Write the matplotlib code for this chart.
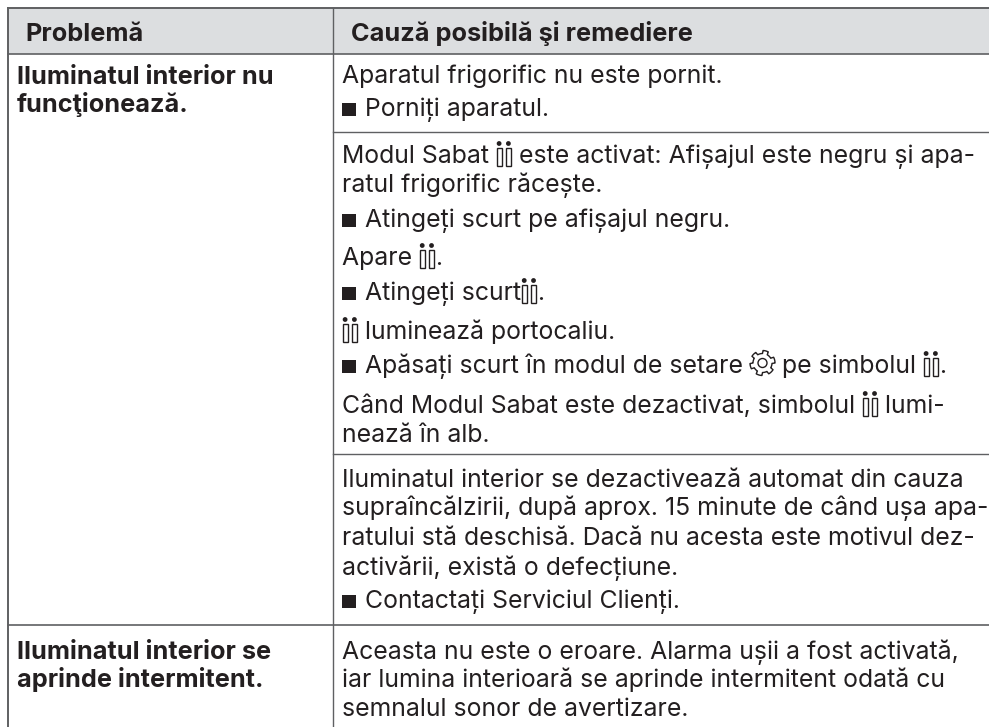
import matplotlib
matplotlib.use('Agg')
import matplotlib.pyplot as plt
from matplotlib.patches import Rectangle, Circle, Polygon
import numpy as np

W, H = 989, 727
FONT = 'Inter'
TEXT_COLOR = '#231f20'
LINE_COLOR = '#5f6062'
HEADER_BG = '#dcdee0'

headers = ['Problemă', 'Cauză posibilă şi remediere']

problems = [
    ('Iluminatul interior nu', 'funcţionează.'),
    ('Iluminatul interior se', 'aprinde intermitent.'),
]

# {c} = candle symbol, {g} = gear symbol, {b} = square bullet
cause_lines = [
    'Aparatul frigorific nu este pornit.',
    '{b}Porniți aparatul.',
    'Modul Sabat {c} este activat: Afișajul este negru și apa-',
    'ratul frigorific răcește.',
    '{b}Atingeți scurt pe afișajul negru.',
    'Apare {c}.',
    '{b}Atingeți scurt{c}.',
    '{c} luminează portocaliu.',
    '{b}Apăsați scurt în modul de setare {g} pe simbolul {c}.',
    'Când Modul Sabat este dezactivat, simbolul {c} lumi-',
    'nează în alb.',
    'Iluminatul interior se dezactivează automat din cauza',
    'supraîncălzirii, după aprox. 15 minute de când ușa apa-',
    'ratului stă deschisă. Dacă nu acesta este motivul dez-',
    'activării, există o defecțiune.',
    '{b}Contactați Serviciul Clienți.',
    'Aceasta nu este o eroare. Alarma ușii a fost activată,',
    'iar lumina interioară se aprinde intermitent odată cu',
    'semnalul sonor de avertizare.',
]

cause_baselines = [83, 116, 163, 192, 227, 265, 300, 339, 373, 413, 442,
                   487, 515, 545, 575, 608, 659, 687, 716]
problem_baselines = [[84, 112], [659, 687]]

LEFT, MID, RIGHT, TOP = 8, 333, W, 8
HEADER_BOTTOM = 54
COL1_X, COL2_X = 17, 342
row_lines = [132, 454]
last_row_line = 625


def draw_candles(ax, x, base):
    for dx in (0.5, 9.8):
        ax.add_patch(Rectangle((x + dx, base - 15), 5.2, 18, fill=False, ec=TEXT_COLOR, lw=1.0))
        ax.add_patch(Circle((x + dx + 2.6, base - 19.5), 2.4, fc=TEXT_COLOR, ec='none'))
    return 16


def draw_gear(ax, x, base):
    cx, cy = x + 12.5, base - 10
    ang = np.linspace(0, 2 * np.pi, 145)[:-1]
    rad = 12.5 - 3 * (np.cos(6 * ang + np.pi / 2) < 0)
    ax.add_patch(Polygon(np.c_[cx + rad * np.cos(ang), cy + rad * np.sin(ang)],
                         closed=True, fill=False, ec=TEXT_COLOR, lw=1.0, joinstyle='round'))
    ax.add_patch(Circle((cx, cy), 4.5, fill=False, ec=TEXT_COLOR, lw=1.0))
    return 25


def draw_bullet(ax, x, base):
    ax.add_patch(Rectangle((x, base - 13), 14, 13, fc=TEXT_COLOR, ec='none'))
    return 23


def draw_line(fig, ax, x, base, line, **kw):
    parts = line.replace('{', '|{').replace('}', '}|').split('|')
    renderer = fig.canvas.get_renderer()
    for part in parts:
        if part == '{c}':
            x += draw_candles(ax, x, base)
        elif part == '{g}':
            x += draw_gear(ax, x, base)
        elif part == '{b}':
            x += draw_bullet(ax, x, base)
        elif part:
            ax.text(x, base, part, va='baseline', ha='left', family=FONT,
                    color=TEXT_COLOR, **kw)
            # trailing spaces are not measured, so measure with a stand-in
            probe = ax.text(0, 0, part.replace(' ', '\u00a0'), family=FONT, **kw)
            x += probe.get_window_extent(renderer).width
            probe.remove()


fig = plt.figure(figsize=(W / 100, H / 100), dpi=100)
ax = fig.add_axes([0, 0, 1, 1])
ax.set_xlim(0, W)
ax.set_ylim(H, 0)
ax.axis('off')

ax.add_patch(Rectangle((LEFT, TOP), RIGHT - LEFT, HEADER_BOTTOM - TOP, fc=HEADER_BG, ec='none'))
ax.plot([LEFT, RIGHT], [TOP, TOP], color=LINE_COLOR, lw=1.4)
ax.plot([LEFT, RIGHT], [HEADER_BOTTOM, HEADER_BOTTOM], color=LINE_COLOR, lw=1.2)
ax.plot([LEFT, LEFT], [TOP, H], color=LINE_COLOR, lw=1.4)
ax.plot([MID, MID], [TOP, H], color=LINE_COLOR, lw=1.0)
for y in row_lines:
    ax.plot([MID, RIGHT], [y, y], color=LINE_COLOR, lw=1.0)
ax.plot([LEFT, RIGHT], [last_row_line, last_row_line], color=LINE_COLOR, lw=1.2)

draw_line(fig, ax, 25, 41, headers[0], fontsize=18.2, fontweight='bold')
draw_line(fig, ax, 351, 41, headers[1], fontsize=18.2, fontweight='bold')

for lines, bases in zip(problems, problem_baselines):
    for line, base in zip(lines, bases):
        draw_line(fig, ax, COL1_X, base, line, fontsize=18.2, fontweight='bold')

for line, base in zip(cause_lines, cause_baselines):
    draw_line(fig, ax, COL2_X, base, line, fontsize=17.85)

fig.savefig('out.png', dpi=100)
